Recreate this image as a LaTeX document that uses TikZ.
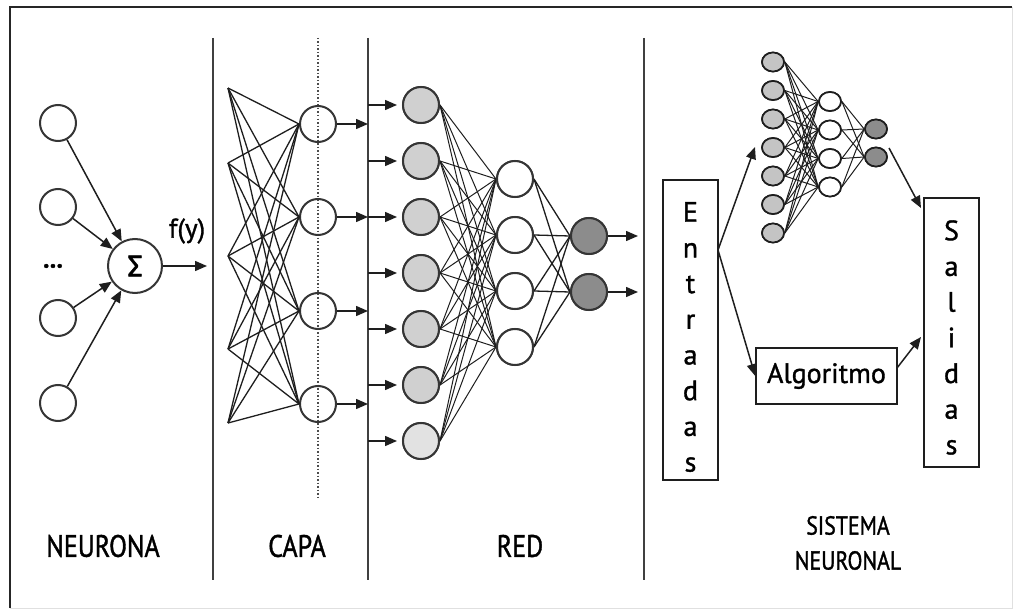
\documentclass[tikz,border=0pt]{standalone}
\usepackage{fontspec}
\setmainfont{PT Sans}[FakeBold=1.2]
\newfontfamily\narrowsans{PT Sans}[FakeStretch=0.84, FakeBold=1.2]
\newfontfamily\greekfont{Fira Sans}[FakeBold=1.2]
\usetikzlibrary{arrows.meta,calc,shapes.geometric}
\definecolor{inputgray}{HTML}{D0D0D0}
\definecolor{inputpale}{HTML}{E2E2E2}
\definecolor{smallgray}{HTML}{C4C4C4}
\definecolor{outgray}{HTML}{8C8C8C}
\definecolor{edge}{HTML}{1E1E1E}
\begin{document}
\begin{tikzpicture}[x=1pt,y=-1pt,
  wire/.style={line width=1.3pt, draw=edge},
  thinwire/.style={line width=1.0pt, draw=edge},
  arr/.style={line width=1.5pt, draw=edge, -{Triangle[length=12pt,width=10pt]}},
  cell/.style={circle, draw=edge!90, line width=2pt, fill=white, minimum size=36pt, inner sep=0pt},
  bigcell/.style={cell, minimum size=54pt},
  dot/.style={ellipse, draw=edge, line width=1.7pt, fill=white, minimum width=22pt, minimum height=19pt, inner sep=0pt},
  divider/.style={line width=1.4pt, draw=black!75},
  panel/.style={font=\narrowsans\fontsize{31}{37}\selectfont, align=center},
  smallpanel/.style={font=\narrowsans\fontsize{26}{35}\selectfont, align=center},
  wordbox/.style={draw=edge, line width=1.5pt, fill=white, inner sep=0pt},
  letters/.style={inner sep=0pt, align=center, font=\fontsize{28}{35.7}\selectfont}
]
\useasboundingbox (0,0) rectangle (1013,610);

% frame
\draw[line width=0.8pt, black!12] (1012,7) -- (1012,608) -- (10,608);
\draw[line width=2.8pt, black!85] (10,608) -- (10,7) -- (1012,7);

% panel separators
\draw[divider] (213,38) -- (213,580);
\draw[divider] (368,38) -- (368,580);
\draw[divider] (644,38) -- (644,580);
\draw[line width=1.3pt, black!70, dash pattern=on 1.5pt off 2pt] (318,38) -- (318,497);

% ---------- NEURONA ----------
\node[bigcell, font=\greekfont\fontsize{30}{32}\selectfont] (sum) at (135,266) {Σ};
\foreach \i/\y in {1/123,2/207,3/318,4/403}
  \node[cell] (n\i) at (58,\y) {};
\foreach \i in {1,...,4}
  \draw[arr] (n\i) -- (sum);
\node[font=\bfseries\fontsize{26}{28}\selectfont] (dots) at (53,266) {...};
\node[font=\fontsize{27}{29}\selectfont] (fy) at (187,231) {f(y)};
\coordinate (sumout) at (207,266);
\draw[arr] (sum) -- (sumout);

% ---------- CAPA ----------
\foreach \i/\y in {1/88,2/163,3/256,4/349,5/423}
  \coordinate (cl\i) at (228,\y);
\foreach \j/\y in {1/124,2/217,3/311,4/404}
  \node[cell, fill=none] (cr\j) at (318,\y) {};
\foreach \i in {1,...,5}
  \foreach \j in {1,...,4}
    \draw[wire] (cl\i) -- (cr\j.west);
\foreach \j/\y in {1/124,2/217,3/311,4/404} {
  \coordinate (crout\j) at (368,\y);
  \draw[arr] (cr\j) -- (crout\j);
}

% ---------- RED ----------
\foreach \i in {1,...,7} {
  \pgfmathsetmacro{\y}{105+56*(\i-1)}
  \coordinate (rin\i) at (368,\y);
  \coordinate (rtip\i) at (397,\y);
  \node[cell, fill=inputgray] (ra\i) at (421,\y) {};
  \draw[arr] (rin\i) -- (rtip\i);
}
\foreach \j in {1,...,4} {
  \pgfmathsetmacro{\y}{179+56*(\j-1)}
  \node[cell] (rb\j) at (515,\y) {};
}
\foreach \k/\y in {1/236,2/292} {
  \node[cell, fill=outgray] (rc\k) at (589,\y) {};
  \coordinate (rout\k) at (638,\y);
  \draw[arr] (rc\k) -- (rout\k);
}
\foreach \i in {1,...,7}
  \foreach \j in {1,...,4}
    \draw[thinwire] (ra\i.east) -- (rb\j.west);
\foreach \j in {1,...,4}
  \foreach \k in {1,2}
    \draw[wire] (rb\j.east) -- (rc\k.west);
% cells drawn again on top of the wires
\foreach \i in {1,...,6} \node[cell, fill=inputgray] at (ra\i) {};
\node[cell, fill=inputpale] at (ra7) {};
\foreach \j in {1,...,4} \node[cell] at (rb\j) {};
\foreach \k in {1,2} \node[cell, fill=outgray] at (rc\k) {};

% ---------- SISTEMA NEURONAL ----------
\foreach \i in {1,...,7} {
  \pgfmathsetmacro{\y}{62+28.5*(\i-1)}
  \node[dot, fill=smallgray] (sa\i) at (773,\y) {};
}
\foreach \j in {1,...,4} {
  \pgfmathsetmacro{\y}{101.5+28.5*(\j-1)}
  \node[dot] (sb\j) at (830,\y) {};
}
\foreach \k/\y in {1/129,2/157}
  \node[dot, fill=outgray] (sc\k) at (876,\y) {};
\foreach \i in {1,...,7}
  \foreach \j in {1,...,4}
    \draw[thinwire] (sa\i.east) -- (sb\j.west);
\foreach \j in {1,...,4}
  \foreach \k in {1,2}
    \draw[thinwire] (sb\j.east) -- (sc\k.west);
\foreach \i in {1,...,7} \node[dot, fill=smallgray] at (sa\i) {};
\foreach \j in {1,...,4} \node[dot] at (sb\j) {};
\foreach \k in {1,2} \node[dot, fill=outgray] at (sc\k) {};

\node[wordbox, minimum width=55pt, minimum height=300pt] (entradas) at (690.5,330) {};
\node[letters] (entradas-txt) at ($(entradas.center)+(0,7)$) {E\\n\\t\\r\\a\\d\\a\\s};
\node[wordbox, minimum width=55pt, minimum height=269pt] (salidas) at (951.5,332.5) {};
\node[letters] (salidas-txt) at ($(salidas.center)+(0,5)$) {S\\a\\l\\i\\d\\a\\s};
\node[wordbox, minimum width=141pt, minimum height=56pt, font=\fontsize{28}{30}\selectfont] (algo) at (826.5,376) {Algoritmo};

\coordinate (eout) at (718,250);
\coordinate (netin) at (755,147);
\coordinate (netout) at (889,148);
\coordinate (salin) at (921,208);
\coordinate (algoout) at (897,368);
\coordinate (salin2) at (921,337);
\draw[arr] (eout) -- (netin);
\draw[arr] (eout) -- (algo.west);
\draw[arr] (algoout) -- (salin2);
\draw[arr] (netout) -- (salin);

% panel titles
\node[panel] (t1) at (103,546) {NEURONA};
\node[panel] (t2) at (297,546) {CAPA};
\node[panel] (t3) at (520,546) {RED};
\node[smallpanel] (t4) at (848,543) {SISTEMA\\NEURONAL};
\end{tikzpicture}
\end{document}
